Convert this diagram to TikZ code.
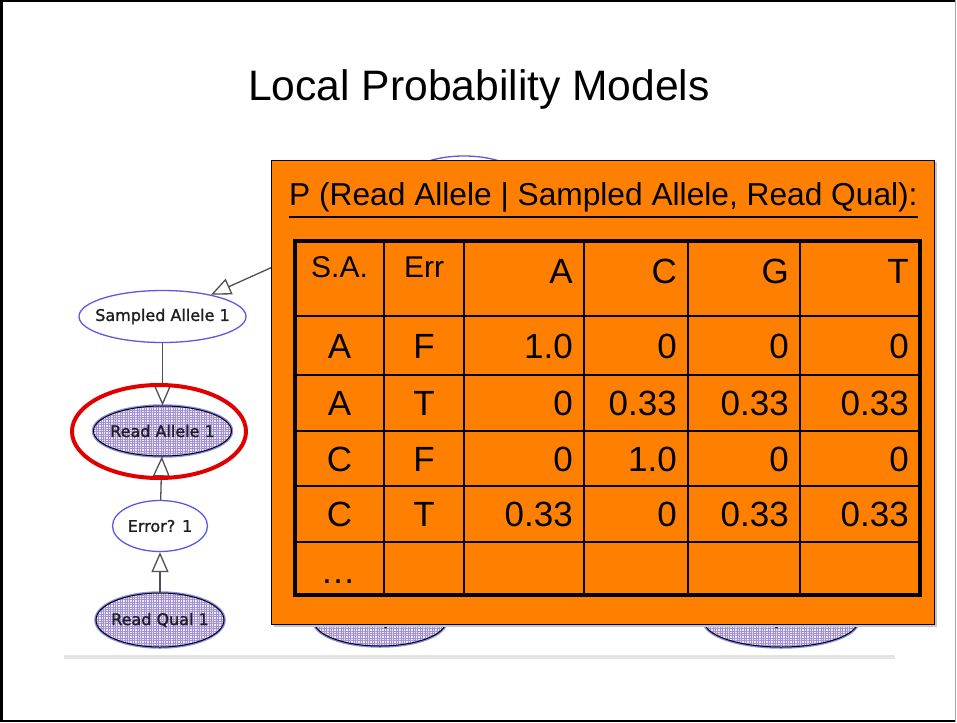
\documentclass[tikz,border=0pt]{standalone}
\usepackage{fontspec}
\setmainfont{Liberation Sans}
\newfontfamily\graphfont[FakeBold=1.3]{DejaVu Sans}
\usetikzlibrary{shapes.geometric,arrows.meta,patterns.meta}

\definecolor{slideorange}{HTML}{FF8000}
\definecolor{nodeblue}{HTML}{5A5AE6}
\definecolor{halo}{HTML}{8C8CF0}
\definecolor{lav}{HTML}{ECE8FA}
\definecolor{hatch}{HTML}{A090D4}
\definecolor{edgegrey}{HTML}{505050}
\definecolor{rulegrey}{HTML}{E4E4E4}
\definecolor{ringred}{HTML}{E00000}

\tikzset{
  varlabel/.style={font=\graphfont\fontsize{16}{18}\selectfont, text=black!88},
  plainvar/.style={ellipse, draw=nodeblue, line width=1.3pt, fill=white,
    inner sep=0pt, varlabel},
  obsvar/.style={ellipse, inner sep=0pt, varlabel,
    preaction={draw=halo, line width=3.5pt},
    preaction={fill=lav},
    preaction={pattern={Lines[angle=0,distance=2.4pt,line width=0.3pt]}, pattern color=hatch},
    pattern={Lines[angle=90,distance=2.4pt,line width=0.3pt]}, pattern color=hatch,
    draw=black, line width=1pt},
  depedge/.style={draw=edgegrey, line width=1.3pt,
    -{Triangle[length=20pt,width=17pt,fill=white,line width=1.3pt]}},
  cpttext/.style={font=\fontsize{35}{40}\selectfont, inner sep=0pt},
  hdrtext/.style={font=\fontsize{30}{34}\selectfont, inner sep=0pt, anchor=base},
  gridline/.style={line width=2.7pt},
}

% zero-width label, set slightly below the node centre
\newcommand{\lbl}[2][2.5pt]{\raisebox{-#1}{\makebox[0pt]{#2}}}

\begin{document}
\begin{tikzpicture}[x=1pt,y=-1pt]
  \useasboundingbox (0,0) rectangle (957,722);

  % slide frame
  \draw[line width=2.5pt] (955,1.25) -- (1.25,1.25) -- (1.25,720.75) -- (955,720.75);
  \draw[gray!70, line width=1.5pt] (955.25,0) -- (955.25,722);

  % slide title
  \node[font=\fontsize{42.6}{50}\selectfont, anchor=base, inner sep=0pt] (title)
    at (479,101) {Local Probability Models};

  % bayes net in the background
  \draw[rulegrey, line width=4pt] (64,657) -- (895,657);

  \node[plainvar, minimum width=118pt, minimum height=50pt] (pop) at (464,181) {};
  \node[plainvar, minimum width=167pt, minimum height=52pt] (sampled) at (162.5,316.5) {\lbl{Sampled Allele 1}};
  \node[obsvar, minimum width=138pt, minimum height=50pt] (readallele) at (162.5,431) {\lbl{Read Allele 1}};
  \node[plainvar, minimum width=95pt, minimum height=51pt] (error) at (160,526) {\lbl{Error? 1}};
  \node[obsvar, minimum width=128pt, minimum height=54pt] (qual1) at (160,620) {\lbl{Read Qual 1}};
  \node[obsvar, minimum width=132pt, minimum height=50pt] (qual2) at (380,621) {\lbl[6pt]{Read Qual 2}};
  \node[obsvar, minimum width=154pt, minimum height=52pt] (qual100) at (781,621) {\lbl[6pt]{Read Qual 100}};

  \draw[depedge] (pop) -- (sampled);
  \draw[depedge] (sampled) -- (readallele);
  \draw[depedge] (error) -- (readallele);
  \draw[depedge] (qual1) -- (error);

  % highlight ring
  \node[ellipse, draw=ringred, line width=4pt, inner sep=0pt,
        minimum width=174pt, minimum height=93pt] (focus) at (159,431.5) {};

  % CPT panel
  \fill[gray!45] (273.5,162.5) rectangle (936.5,626.5);
  \draw[fill=slideorange, line width=0.8pt] (271,160) rectangle (934,624);

  \node[font=\fontsize{31.7}{36}\selectfont, anchor=base west, inner sep=0pt] (cpttitle)
    at (289,205) {P (Read Allele | Sampled Allele, Read Qual):};
  \draw[line width=2pt] (289,216.5) -- (918,216.5);

  % table rules
  \foreach \cx in {384,464,584,688,800}
    \draw[gridline] (\cx,241) -- (\cx,595);
  \foreach \ry in {316,375,431,486,542}
    \draw[gridline] (295,\ry) -- (920,\ry);
  \draw[line width=4.5pt] (295,241) rectangle (920,595);

  % header row
  \node[hdrtext] (hsa) at (339.5,277) {S.A.};
  \node[hdrtext] (herr) at (424,277) {Err};
  \node[cpttext, anchor=base east] (hA) at (573,283) {A};
  \node[cpttext, anchor=base east] (hC) at (677,283) {C};
  \node[cpttext, anchor=base east] (hG) at (789,283) {G};
  \node[cpttext, anchor=base east] (hT) at (909,283) {T};

  % table body
  \foreach \by/\sa/\er/\pa/\pc/\pg/\pt [count=\i] in
      {358/A/F/1.0/0/0/0,
       415.5/A/T/0/0.33/0.33/0.33,
       471/C/F/0/1.0/0/0,
       526.5/C/T/0.33/0/0.33/0.33}{
    \node[cpttext, anchor=base] (sa\i) at (339.5,\by) {\sa};
    \node[cpttext, anchor=base] (er\i) at (424,\by) {\er};
    \node[cpttext, anchor=base east] (pa\i) at (573,\by) {\pa};
    \node[cpttext, anchor=base east] (pc\i) at (677,\by) {\pc};
    \node[cpttext, anchor=base east] (pg\i) at (789,\by) {\pg};
    \node[cpttext, anchor=base east] (pt\i) at (909,\by) {\pt};
  }
  \node[cpttext, anchor=base] (more) at (338,583) {…};
\end{tikzpicture}
\end{document}
